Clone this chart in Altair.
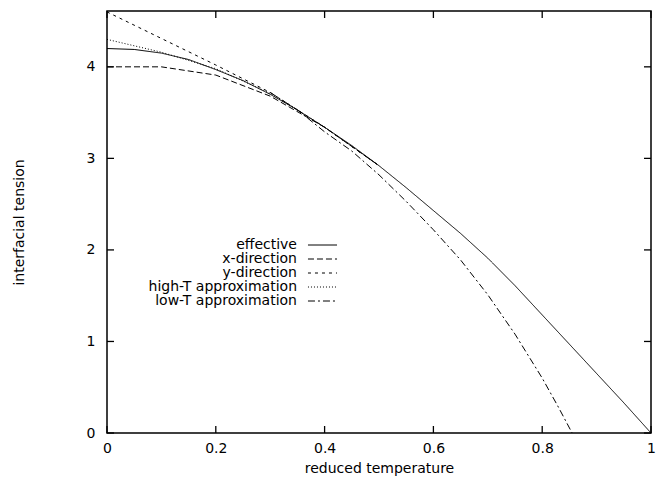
import altair as alt
import pandas as pd

# ---- data ----
eff_temperature = [0.0, 0.05, 0.1, 0.15, 0.2, 0.25, 0.3, 0.35, 0.4, 0.45, 0.5,
                   0.55, 0.6, 0.65, 0.7, 0.75, 0.8, 0.85, 0.9, 0.95, 1.0]
effective       = [4.20, 4.19, 4.15, 4.08, 3.97, 3.85, 3.70, 3.53, 3.34, 3.14, 2.92,
                   2.68, 2.43, 2.18, 1.91, 1.61, 1.29, 0.97, 0.65, 0.33, 0.00]

dir_temperature = [0.0, 0.1, 0.2, 0.3, 0.4, 0.5]
x_direction     = [4.00, 4.00, 3.91, 3.68, 3.34, 2.92]
y_direction     = [4.60, 4.31, 4.02, 3.72, 3.34, 2.92]
high_T          = [4.30, 4.16, 3.98, 3.71, 3.34, 2.92]

low_T_temperature = [0.30, 0.35, 0.40, 0.45, 0.50, 0.55, 0.60, 0.65, 0.70, 0.75, 0.80, 0.83, 0.855]
low_T             = [3.72, 3.53, 3.29, 3.08, 2.82, 2.53, 2.22, 1.89, 1.51, 1.08, 0.60, 0.28, 0.00]

series_names = ["effective", "x-direction", "y-direction",
                "high-T approximation", "low-T approximation"]
dash_patterns = [[1, 0], [6, 3], [3, 4], [1, 2], [7, 3, 2, 3]]

x_ticks = [0, 0.2, 0.4, 0.6, 0.8, 1.0]
y_ticks = [0, 1, 2, 3, 4]

rows = []
for name, xs, ys in [
    ("effective", eff_temperature, effective),
    ("x-direction", dir_temperature, x_direction),
    ("y-direction", dir_temperature, y_direction),
    ("high-T approximation", dir_temperature, high_T),
    ("low-T approximation", low_T_temperature, low_T),
]:
    for t, v in zip(xs, ys):
        rows.append({"T": t, "sigma": v, "series": name})
df = pd.DataFrame(rows)
xt = pd.DataFrame({"T": x_ticks})
yt = pd.DataFrame({"sigma": y_ticks})

FONT = "DejaVu Sans"
W, H, TICK = 544, 422, 7
xscale = alt.Scale(domain=[0, 1], nice=False, zero=False)
yscale = alt.Scale(domain=[0, 4.61], nice=False, zero=False)

x_axis = alt.Axis(orient="bottom", values=x_ticks, format="~g",
                  title="reduced temperature", ticks=False,
                  labelPadding=8, labelFlush=False,
                  titleY=39, titleBaseline="alphabetic")
y_axis = alt.Axis(orient="left", values=y_ticks, format="~g",
                  title="interfacial tension", ticks=False,
                  labelPadding=12, titleX=-88, titleY=H / 2,
                  titleAngle=-90, titleAlign="center", titleBaseline="middle")

lines = alt.Chart(df).mark_line(color="black", strokeWidth=1).encode(
    x=alt.X("T:Q", scale=xscale, axis=x_axis),
    y=alt.Y("sigma:Q", scale=yscale, axis=y_axis),
    strokeDash=alt.StrokeDash(
        "series:N",
        scale=alt.Scale(domain=series_names, range=dash_patterns),
        legend=alt.Legend(title=None, orient="none", legendX=208.5, legendY=227,
                          symbolType="M-2.64,0H2.64", symbolSize=121,
                          symbolStrokeWidth=1, symbolStrokeColor="black",
                          symbolFillColor="transparent",
                          rowPadding=0,
                          labelAlign="right", labelOffset={"expr": "-32.5"},
                          labelFont=FONT, labelFontSize=14, labelColor="black",
                          labelLimit=400, padding=0),
    ),
    order=alt.Order("T:Q"),
)

# inward tick marks on all four sides (positions from the scales)
tick_style = dict(color="black", strokeWidth=1.3, opacity=1)
ticks_bottom = alt.Chart(xt).mark_rule(**tick_style).encode(
    x=alt.X("T:Q", scale=xscale),
    y=alt.value(H - TICK), y2=alt.value(H))
ticks_top = alt.Chart(xt).mark_rule(**tick_style).encode(
    x=alt.X("T:Q", scale=xscale),
    y=alt.value(0), y2=alt.value(TICK))
ticks_left = alt.Chart(yt).mark_rule(**tick_style).encode(
    y=alt.Y("sigma:Q", scale=yscale),
    x=alt.value(0), x2=alt.value(TICK))
ticks_right = alt.Chart(yt).mark_rule(**tick_style).encode(
    y=alt.Y("sigma:Q", scale=yscale),
    x=alt.value(W - TICK), x2=alt.value(W))

chart = alt.layer(lines, ticks_bottom, ticks_top, ticks_left, ticks_right).properties(
    width=W, height=H,
    autosize=alt.AutoSizeParams(type="none"),
    padding={"left": 99, "top": 3, "right": 11, "bottom": 44},
).configure_view(
    stroke="black", strokeWidth=1.5
).configure_axis(
    grid=False, domain=False,
    labelFont=FONT, labelFontSize=14, labelColor="black",
    titleFont=FONT, titleFontSize=14, titleColor="black", titleFontWeight="normal",
)

chart.save("out.html", embed_options={"renderer": "svg", "actions": False})
